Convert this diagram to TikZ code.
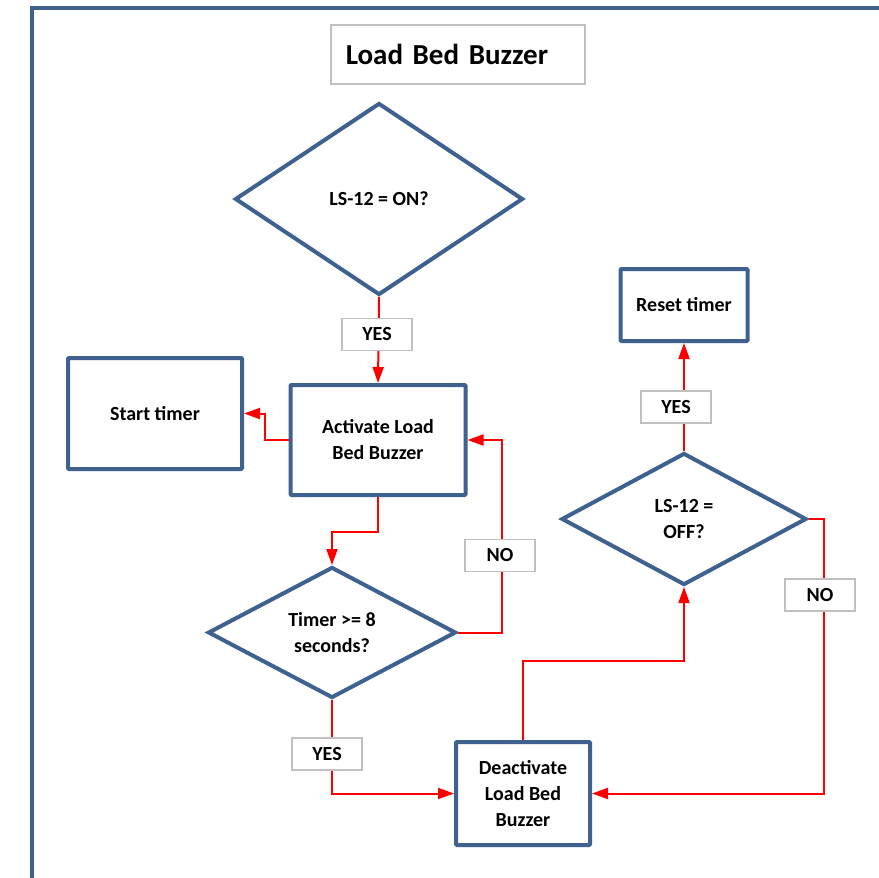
\documentclass[tikz,border=0pt]{standalone}
\usepackage{fontspec}
\setmainfont{Carlito}
\usepackage{tikz}
\usetikzlibrary{shapes.geometric, arrows.meta, positioning, calc}
\definecolor{boxblue}{HTML}{3F6190}
\definecolor{flowred}{HTML}{FF0000}
\definecolor{lblgray}{HTML}{C0C0C0}

\begin{document}
\begin{tikzpicture}[x=1pt, y=-1pt,
    proc/.style={rectangle, rounded corners=1pt, draw=boxblue, line width=4pt, fill=white,
                 inner sep=0pt, align=center, font=\fontsize{20}{26}\selectfont\bfseries},
    decide/.style={diamond, draw=boxblue, line width=4pt, fill=white, inner sep=0pt,
                   align=center, font=\fontsize{20}{26}\selectfont\bfseries},
    lbl/.style={rectangle, draw=lblgray, line width=1.5pt, fill=white, inner sep=0pt,
                minimum width=70pt, minimum height=32pt, font=\fontsize{20}{24}\selectfont\bfseries},
    flow/.style={draw=flowred, line width=2pt, -{Triangle[length=16pt, width=11pt]}},
    frame/.style={draw=boxblue, line width=3.5pt}
]
\useasboundingbox (0,0) rectangle (879,878);
\draw[frame] (32,878) -- (32,8) -- (879,8);

\node[rectangle, draw=lblgray, line width=1.5pt, anchor=west, text width=224pt, inner xsep=15pt,
      minimum height=59pt, align=left, font=\fontsize{29}{35}\selectfont\bfseries]
      (title) at (330,54.5) {Load Bed Buzzer};

\node[decide, minimum width=288pt, minimum height=192pt] (chkon)  at (379,199) {LS-12 = ON?};
\node[proc, minimum width=175pt, minimum height=110pt]   (act)    at (378,440) {Activate Load\\Bed Buzzer};
\node[proc, minimum width=174pt, minimum height=111pt]   (start)  at (155,413.5) {Start timer};
\node[decide, minimum width=248pt, minimum height=131pt] (tmr)    at (332,632.5) {Timer >= 8\\seconds?};
\node[proc, minimum width=134pt, minimum height=103pt]   (deact)  at (523,793.5) {Deactivate\\Load Bed\\Buzzer};
\node[decide, minimum width=245pt, minimum height=132pt] (chkoff) at (684,519) {LS-12 =\\OFF?};
\node[proc, minimum width=127pt, minimum height=72pt]    (reset)  at (684,305) {Reset timer};

\draw[flow] (chkon.south) -- (act.north);
\draw[flow] (act.west) -- ++(-24,0) |- (start.east);
\draw[flow] (act.south) -- ++(0,35) -| (tmr.north);
\draw[flow] (tmr.east) -- ++(44,0) |- (act.east);
\draw[flow] (tmr.south) |- (deact.west);
\draw[flow] (deact.north) -- ++(0,-79) -| (chkoff.south);
\draw[flow] (chkoff.north) -- (reset.south);
\draw[flow] (chkoff.east) -- ++(15,0) |- (deact.east);

\node[lbl] (yes1) at (377,334.5) {YES};
\node[lbl] (no1)  at (500,555.5) {NO};
\node[lbl] (yes2) at (327,754)   {YES};
\node[lbl] (yes3) at (676,407)   {YES};
\node[lbl] (no2)  at (820,595)   {NO};
\end{tikzpicture}
\end{document}
